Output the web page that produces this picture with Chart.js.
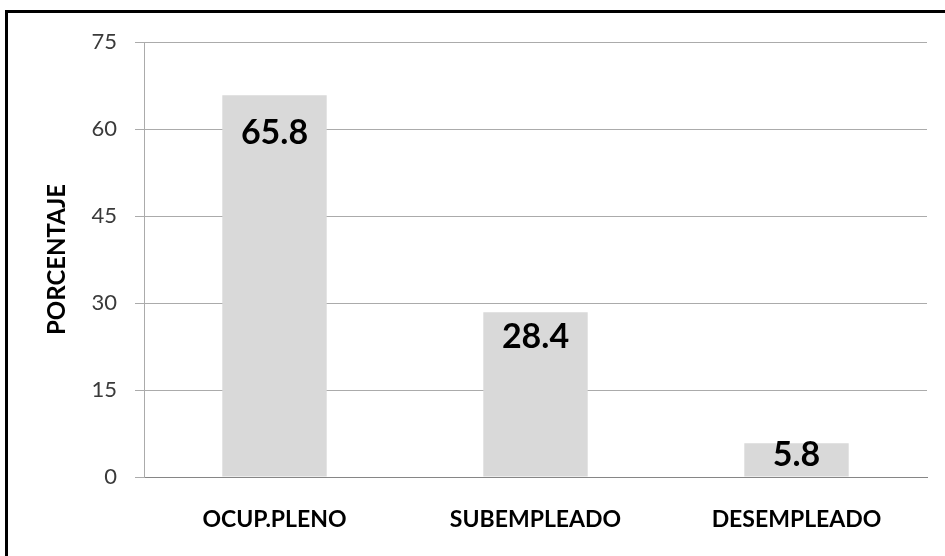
<!DOCTYPE html>
<html>
<head>
<meta charset="utf-8">
<script src="https://cdn.jsdelivr.net/npm/chart.js@4"></script>
<style>
  html, body { margin: 0; padding: 0; background: #fff; }
  #wrap { position: relative; width: 945px; height: 556px; }
  #frame { position: absolute; left: 5px; top: 10px; right: 0; bottom: 0;
           border-top: 3px solid #000; border-left: 3px solid #000; pointer-events: none; }
</style>
</head>
<body>
<div id="wrap">
  <canvas id="barChart" width="945" height="556"></canvas>
  <div id="frame"></div>
</div>
<script>
const categories = ['OCUP.PLENO', 'SUBEMPLEADO', 'DESEMPLEADO'];
const percentages = [65.8, 28.4, 5.8];
const yTicks = [0, 15, 30, 45, 60, 75];

const FONT = 'Lato, "Open Sans", sans-serif';

// value labels drawn inside the top of each bar
const valueLabels = {
	id: 'valueLabels',
	afterDatasetsDraw(chart, args, opts) {
		const { ctx } = chart;
		const meta = chart.getDatasetMeta(0);
		ctx.save();
		ctx.font = `bold ${opts.size}px ${FONT}`;
		ctx.fillStyle = '#000';
		ctx.textAlign = 'center';
		ctx.textBaseline = 'middle';
		meta.data.forEach((bar, i) => {
			ctx.fillText(String(percentages[i]), bar.x, bar.y + opts.offsets[i]);
		});
		ctx.restore();
	},
};

const ctx = document.querySelector('#barChart');

const myChart = new Chart(ctx, {
	type: 'bar',
	data: {
		labels: categories,
		datasets: [
			{
				label: 'PORCENTAJE',
				backgroundColor: '#d9d9d9',
				data: percentages,
				categoryPercentage: 1,
				barPercentage: 0.4,
			},
		],
	},
	plugins: [valueLabels],
	options: {
		responsive: false,
		animation: false,
		layout: { padding: { left: 43, right: 18, top: 42, bottom: 0 } },
		plugins: {
			legend: { display: false },
			tooltip: { enabled: false },
			valueLabels: { size: 34, offsets: [38, 25, 12] },
		},
		scales: {
			x: {
				grid: { display: false, drawTicks: false },
				border: { display: true, color: '#868686', width: 1 },
				ticks: {
					color: '#000',
					padding: 29,
					font: { family: FONT, size: 23, weight: 'bold' },
				},
				afterFit: scale => { scale.height = 79; },
			},
			y: {
				min: 0,
				max: 75,
				afterBuildTicks: scale => {
					scale.ticks = yTicks.map(v => ({ value: v }));
				},
				grid: { color: '#ababab', lineWidth: 1, tickLength: 9 },
				border: { display: true, color: '#ababab', width: 1 },
				ticks: {
					color: '#3a3a3a',
					padding: 18,
					font: { family: FONT, size: 22 },
				},
				title: {
					display: true,
					text: 'PORCENTAJE',
					color: '#000',
					padding: { top: 0, bottom: 0 },
					font: { family: FONT, size: 24, weight: 'bold' },
				},
				afterFit: scale => { scale.width = 101; },
			},
		},
	},
});
</script>
</body>
</html>
